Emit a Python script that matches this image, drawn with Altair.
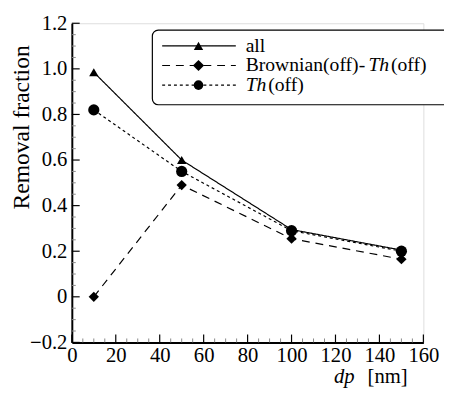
import altair as alt
import pandas as pd

# ---- data ----
dp = [10, 50, 100, 150]
all_frac = [0.985, 0.60, 0.295, 0.205]
brown_th_off = [0.0, 0.49, 0.255, 0.165]
th_off = [0.82, 0.55, 0.29, 0.20]
series_names = ["all", "Brownian(off)-Th(off)", "Th(off)"]

x_major = [0, 20, 40, 60, 80, 100, 120, 140, 160]
x_minor = [v for v in range(0, 161, 5) if v % 20 != 0]
y_major = [-0.2, 0.0, 0.2, 0.4, 0.6, 0.8, 1.0, 1.2]
y_minor = [round(-0.2 + 0.05 * i, 2) for i in range(29) if i % 4 != 0]

rows = []
for name, vals in zip(series_names, [all_frac, brown_th_off, th_off]):
    for xv, yv in zip(dp, vals):
        rows.append({"dp": xv, "frac": yv, "series": name})
df = pd.DataFrame(rows)

FONT = "'Liberation Serif', 'Times New Roman', 'DejaVu Serif', serif"
FS = 21
LFS = 20
W, H = 358, 325

xs = alt.Scale(domain=[0, 160], nice=False, zero=False)
ys = alt.Scale(domain=[-0.2, 1.2], nice=False, zero=False)
x_axis = alt.Axis(values=x_major, title=None, ticks=False, tickSize=0, grid=False,
                  domainColor="black", domainWidth=2, labelFont=FONT, labelFontSize=FS,
                  labelColor="black", labelPadding=2, labelFlush=False, labelOverlap=False)
y_axis = alt.Axis(values=y_major, title=None, ticks=False, tickSize=0, grid=False,
                  domainColor="black", domainWidth=2, labelFont=FONT, labelFontSize=FS,
                  labelColor="black", labelPadding=5, labelFlush=False, labelOverlap=False,
                  labelExpr="datum.value == 0 ? '0' : format(datum.value, '.1f')")


def X(field):
    return alt.X(field, type="quantitative", scale=xs, axis=x_axis)


def Y(field):
    return alt.Y(field, type="quantitative", scale=ys, axis=y_axis)


dash_scale = alt.Scale(domain=series_names, range=[[1, 0], [8, 6], [3, 3]])
shape_scale = alt.Scale(domain=series_names, range=["triangle-up", "diamond", "circle"])
size_scale = alt.Scale(domain=series_names, range=[90, 130, 95])

base = alt.Chart(df)
lines = base.mark_line(color="black", strokeWidth=1.2).encode(
    x=X("dp"), y=Y("frac"),
    strokeDash=alt.StrokeDash("series:N", scale=dash_scale, legend=None),
    detail="series:N",
)
points = base.mark_point(filled=True, color="black", opacity=1).encode(
    x=X("dp"), y=Y("frac"),
    shape=alt.Shape("series:N", scale=shape_scale, legend=None),
    size=alt.Size("series:N", scale=size_scale, legend=None),
)

# inward ticks
xt_major = alt.Chart(pd.DataFrame({"t": x_major})).mark_rule(color="black", strokeWidth=1.2).encode(
    x=X("t"), y=alt.value(H), y2=alt.value(H - 8))
xt_minor = alt.Chart(pd.DataFrame({"t": x_minor})).mark_rule(color="#888888", strokeWidth=1).encode(
    x=X("t"), y=alt.value(H), y2=alt.value(H - 4))
yt_major = alt.Chart(pd.DataFrame({"t": y_major})).mark_rule(color="black", strokeWidth=1.2).encode(
    y=Y("t"), x=alt.value(0), x2=alt.value(8))
yt_minor = alt.Chart(pd.DataFrame({"t": y_minor})).mark_rule(color="#888888", strokeWidth=1).encode(
    y=Y("t"), x=alt.value(0), x2=alt.value(4))

one = alt.Chart(pd.DataFrame({"a": [0]}))

# legend box
leg_box = one.mark_rect(fill="white", stroke="black", strokeWidth=1.2, cornerRadius=6, clip=False).encode(
    x=alt.value(82), x2=alt.value(440), y=alt.value(7), y2=alt.value(83))

leg_layers = [leg_box]
row_y = [23, 43, 63]
dashes = [[1, 0], [8, 6], [3, 3]]
shapes = ["triangle-up", "diamond", "circle"]
sizes = [90, 130, 95]
for ry, d, s, sz in zip(row_y, dashes, shapes, sizes):
    leg_layers.append(one.mark_rule(color="black", strokeWidth=1.2, strokeDash=d).encode(
        x=alt.value(92), x2=alt.value(167), y=alt.value(ry)))
    leg_layers.append(one.mark_point(shape=s, filled=True, color="black", size=sz, opacity=1).encode(
        x=alt.value(129), y=alt.value(ry)))


def txt(s, x, y, italic=False, align="left", angle=0, size=LFS, baseline="middle"):
    kw = dict(align=align, baseline=baseline, font=FONT, fontSize=size, color="black")
    if italic:
        kw["fontStyle"] = "italic"
    if angle:
        kw["angle"] = angle
    return one.mark_text(text=s, **kw).encode(x=alt.value(x), y=alt.value(y))


LX = 177
leg_layers += [
    txt("all", LX, row_y[0]),
    txt("Brownian(off)-", LX, row_y[1]),
    txt("Th", LX + 125, row_y[1], italic=True),
    txt("(off)", LX + 148, row_y[1]),
    txt("Th", LX, row_y[2], italic=True),
    txt("(off)", LX + 23, row_y[2]),
]

titles = [
    txt("Removal fraction", -51, 106, angle=270, align="center", size=24),
    txt("[nm]", 342, 366, align="right", size=FS, baseline="alphabetic"),
    txt("dp", 288, 366, align="right", size=FS, baseline="alphabetic", italic=True),
]

chart = alt.layer(
    xt_minor, xt_major, yt_minor, yt_major, lines, points, *leg_layers, *titles
).properties(
    width=W, height=H,
    padding={"left": 65, "top": 12, "right": 21, "bottom": 49},
    autosize=alt.AutoSizeParams(type="none"),
).configure_view(
    stroke="black", strokeWidth=1.5
).configure(background="white")

chart.save("out.html", embed_options={"renderer": "svg", "actions": False})
